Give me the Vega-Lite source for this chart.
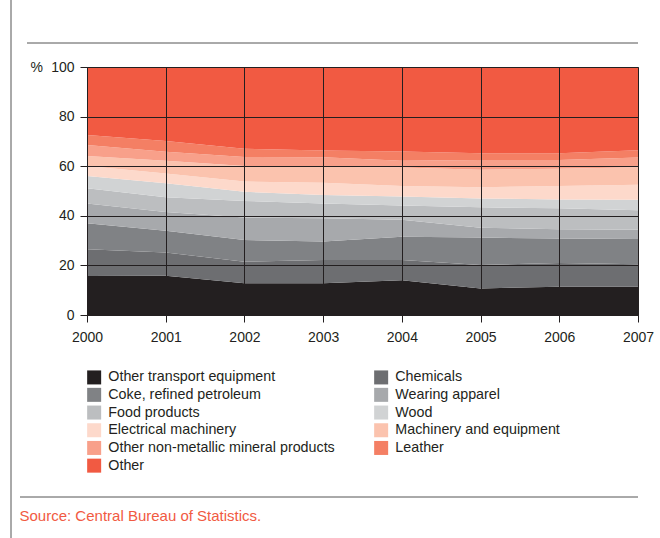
{
  "$schema": "https://vega.github.io/schema/vega-lite/v6.json",
  "autosize": {"type": "none"},
  "width": 551,
  "height": 248,
  "padding": {"left": 87, "top": 67, "right": 22, "bottom": 223},
  "background": "white",
  "config": {
    "font": "Liberation Sans",
    "view": {"stroke": "#8a8a8a", "strokeWidth": 1},
    "axis": {
      "labelFont": "Liberation Sans",
      "labelFontSize": 14,
      "labelColor": "#231f20",
      "tickColor": "#231f20",
      "domainColor": "#231f20",
      "grid": true,
      "gridColor": "#231f20",
      "gridOpacity": 1,
      "gridWidth": 1
    }
  },
  "title": {
    "text": "Source: Central Bureau of Statistics.",
    "orient": "bottom",
    "anchor": "start",
    "dx": 9,
    "offset": -30,
    "color": "#f15a42",
    "fontSize": 15,
    "fontWeight": "normal",
    "font": "Liberation Sans"
  },
  "datasets": {
    "sectors": [
      {"sector": "Other transport equipment", "rank": 1},
      {"sector": "Chemicals", "rank": 2},
      {"sector": "Coke, refined petroleum", "rank": 3},
      {"sector": "Wearing apparel", "rank": 4},
      {"sector": "Food products", "rank": 5},
      {"sector": "Wood", "rank": 6},
      {"sector": "Electrical machinery", "rank": 7},
      {"sector": "Machinery and equipment", "rank": 8},
      {"sector": "Other non-metallic mineral products", "rank": 9},
      {"sector": "Leather", "rank": 10},
      {"sector": "Other", "rank": 11}
    ],
    "shares": [
      {"year": 2000, "sector": "Other transport equipment", "share": 15.7},
      {"year": 2000, "sector": "Chemicals", "share": 10.8},
      {"year": 2000, "sector": "Coke, refined petroleum", "share": 10.5},
      {"year": 2000, "sector": "Wearing apparel", "share": 8.0},
      {"year": 2000, "sector": "Food products", "share": 6.1},
      {"year": 2000, "sector": "Wood", "share": 4.9},
      {"year": 2000, "sector": "Electrical machinery", "share": 4.1},
      {"year": 2000, "sector": "Machinery and equipment", "share": 4.0},
      {"year": 2000, "sector": "Other non-metallic mineral products", "share": 4.4},
      {"year": 2000, "sector": "Leather", "share": 4.1},
      {"year": 2000, "sector": "Other", "share": 27.4},
      {"year": 2001, "sector": "Other transport equipment", "share": 15.8},
      {"year": 2001, "sector": "Chemicals", "share": 9.4},
      {"year": 2001, "sector": "Coke, refined petroleum", "share": 8.8},
      {"year": 2001, "sector": "Wearing apparel", "share": 7.5},
      {"year": 2001, "sector": "Food products", "share": 6.0},
      {"year": 2001, "sector": "Wood", "share": 5.6},
      {"year": 2001, "sector": "Electrical machinery", "share": 4.0},
      {"year": 2001, "sector": "Machinery and equipment", "share": 5.1},
      {"year": 2001, "sector": "Other non-metallic mineral products", "share": 3.6},
      {"year": 2001, "sector": "Leather", "share": 4.4},
      {"year": 2001, "sector": "Other", "share": 29.8},
      {"year": 2002, "sector": "Other transport equipment", "share": 12.8},
      {"year": 2002, "sector": "Chemicals", "share": 8.7},
      {"year": 2002, "sector": "Coke, refined petroleum", "share": 8.7},
      {"year": 2002, "sector": "Wearing apparel", "share": 9.1},
      {"year": 2002, "sector": "Food products", "share": 6.7},
      {"year": 2002, "sector": "Wood", "share": 3.7},
      {"year": 2002, "sector": "Electrical machinery", "share": 4.1},
      {"year": 2002, "sector": "Machinery and equipment", "share": 6.3},
      {"year": 2002, "sector": "Other non-metallic mineral products", "share": 3.6},
      {"year": 2002, "sector": "Leather", "share": 3.3},
      {"year": 2002, "sector": "Other", "share": 33.0},
      {"year": 2003, "sector": "Other transport equipment", "share": 12.8},
      {"year": 2003, "sector": "Chemicals", "share": 9.4},
      {"year": 2003, "sector": "Coke, refined petroleum", "share": 7.4},
      {"year": 2003, "sector": "Wearing apparel", "share": 9.4},
      {"year": 2003, "sector": "Food products", "share": 6.0},
      {"year": 2003, "sector": "Wood", "share": 3.4},
      {"year": 2003, "sector": "Electrical machinery", "share": 4.9},
      {"year": 2003, "sector": "Machinery and equipment", "share": 6.5},
      {"year": 2003, "sector": "Other non-metallic mineral products", "share": 3.8},
      {"year": 2003, "sector": "Leather", "share": 2.7},
      {"year": 2003, "sector": "Other", "share": 33.7},
      {"year": 2004, "sector": "Other transport equipment", "share": 14.0},
      {"year": 2004, "sector": "Chemicals", "share": 8.2},
      {"year": 2004, "sector": "Coke, refined petroleum", "share": 9.4},
      {"year": 2004, "sector": "Wearing apparel", "share": 6.8},
      {"year": 2004, "sector": "Food products", "share": 5.8},
      {"year": 2004, "sector": "Wood", "share": 3.6},
      {"year": 2004, "sector": "Electrical machinery", "share": 4.2},
      {"year": 2004, "sector": "Machinery and equipment", "share": 7.5},
      {"year": 2004, "sector": "Other non-metallic mineral products", "share": 2.7},
      {"year": 2004, "sector": "Leather", "share": 3.7},
      {"year": 2004, "sector": "Other", "share": 34.1},
      {"year": 2005, "sector": "Other transport equipment", "share": 10.7},
      {"year": 2005, "sector": "Chemicals", "share": 9.5},
      {"year": 2005, "sector": "Coke, refined petroleum", "share": 11.0},
      {"year": 2005, "sector": "Wearing apparel", "share": 4.0},
      {"year": 2005, "sector": "Food products", "share": 8.2},
      {"year": 2005, "sector": "Wood", "share": 3.6},
      {"year": 2005, "sector": "Electrical machinery", "share": 4.5},
      {"year": 2005, "sector": "Machinery and equipment", "share": 7.1},
      {"year": 2005, "sector": "Other non-metallic mineral products", "share": 3.9},
      {"year": 2005, "sector": "Leather", "share": 2.7},
      {"year": 2005, "sector": "Other", "share": 34.8},
      {"year": 2006, "sector": "Other transport equipment", "share": 11.4},
      {"year": 2006, "sector": "Chemicals", "share": 9.6},
      {"year": 2006, "sector": "Coke, refined petroleum", "share": 9.8},
      {"year": 2006, "sector": "Wearing apparel", "share": 3.8},
      {"year": 2006, "sector": "Food products", "share": 8.4},
      {"year": 2006, "sector": "Wood", "share": 3.6},
      {"year": 2006, "sector": "Electrical machinery", "share": 5.4},
      {"year": 2006, "sector": "Machinery and equipment", "share": 7.0},
      {"year": 2006, "sector": "Other non-metallic mineral products", "share": 3.5},
      {"year": 2006, "sector": "Leather", "share": 2.7},
      {"year": 2006, "sector": "Other", "share": 34.8},
      {"year": 2007, "sector": "Other transport equipment", "share": 11.4},
      {"year": 2007, "sector": "Chemicals", "share": 9.1},
      {"year": 2007, "sector": "Coke, refined petroleum", "share": 10.1},
      {"year": 2007, "sector": "Wearing apparel", "share": 3.8},
      {"year": 2007, "sector": "Food products", "share": 7.8},
      {"year": 2007, "sector": "Wood", "share": 4.3},
      {"year": 2007, "sector": "Electrical machinery", "share": 6.0},
      {"year": 2007, "sector": "Machinery and equipment", "share": 7.1},
      {"year": 2007, "sector": "Other non-metallic mineral products", "share": 3.9},
      {"year": 2007, "sector": "Leather", "share": 2.9},
      {"year": 2007, "sector": "Other", "share": 33.6}
    ]
  },
  "layer": [
    {
      "data": {"name": "shares"},
      "transform": [
        {"lookup": "sector", "from": {"data": {"name": "sectors"}, "key": "sector", "fields": ["rank"]}}
      ],
      "mark": {"type": "area", "interpolate": "linear"},
      "encoding": {
        "x": {
          "field": "year",
          "type": "quantitative",
          "scale": {"domain": [2000, 2007], "nice": false, "zero": false},
          "axis": {
            "values": [2000, 2001, 2002, 2003, 2004, 2005, 2006, 2007],
            "format": "d",
            "title": null,
            "grid": true,
            "zindex": 1,
            "tickSize": 7,
            "labelPadding": 8,
            "labelFlush": false
          }
        },
        "y": {
          "field": "share",
          "type": "quantitative",
          "stack": "zero",
          "scale": {"domain": [0, 100], "nice": false},
          "axis": {
            "values": [0, 20, 40, 60, 80, 100],
            "grid": true,
            "zindex": 1,
            "title": "%",
            "titleAngle": 0,
            "titleX": -57,
            "titleY": 0,
            "titleAlign": "left",
            "titleBaseline": "middle",
            "titleFontSize": 14,
            "titleFontWeight": "normal",
            "titleColor": "#231f20",
            "titleFont": "Liberation Sans",
            "tickSize": 7,
            "labelPadding": 6
          }
        },
        "order": {"field": "rank", "type": "quantitative", "sort": "ascending"},
        "color": {
          "field": "sector",
          "type": "nominal",
          "scale": {
            "domain": [
              "Other transport equipment",
              "Chemicals",
              "Coke, refined petroleum",
              "Wearing apparel",
              "Food products",
              "Wood",
              "Electrical machinery",
              "Machinery and equipment",
              "Other non-metallic mineral products",
              "Leather",
              "Other"
            ],
            "range": [
              "#231f20",
              "#6d6e71",
              "#808285",
              "#a7a9ac",
              "#bcbec0",
              "#d1d3d4",
              "#fdd9cb",
              "#fbc3ae",
              "#f8a08a",
              "#f47f64",
              "#f15a42"
            ]
          },
          "legend": {
            "title": null,
            "orient": "none",
            "legendX": 0,
            "legendY": 303,
            "direction": "horizontal",
            "columns": 2,
            "columnPadding": 39,
            "rowPadding": 2.7,
            "symbolType": "square",
            "symbolSize": 196,
            "symbolStrokeWidth": 0,
            "symbolOpacity": 1,
            "labelFontSize": 14.3,
            "labelFont": "Liberation Sans",
            "labelColor": "#231f20",
            "labelOffset": 7,
            "labelLimit": 400
          }
        }
      }
    },
    {
      "data": {"values": [{"edge": "top"}]},
      "mark": {"type": "rule", "color": "#555555", "strokeWidth": 1},
      "encoding": {"x": {"value": -60}, "x2": {"value": 551}, "y": {"value": -24}}
    },
    {
      "data": {"values": [{"edge": "bottom"}]},
      "mark": {"type": "rule", "color": "#555555", "strokeWidth": 1},
      "encoding": {"x": {"value": -67}, "x2": {"value": 551}, "y": {"value": 430}}
    },
    {
      "data": {"values": [{"edge": "left"}]},
      "mark": {"type": "rule", "color": "#555555", "strokeWidth": 1},
      "encoding": {"x": {"value": -76}, "y": {"value": -67}, "y2": {"value": 471}}
    }
  ]
}
